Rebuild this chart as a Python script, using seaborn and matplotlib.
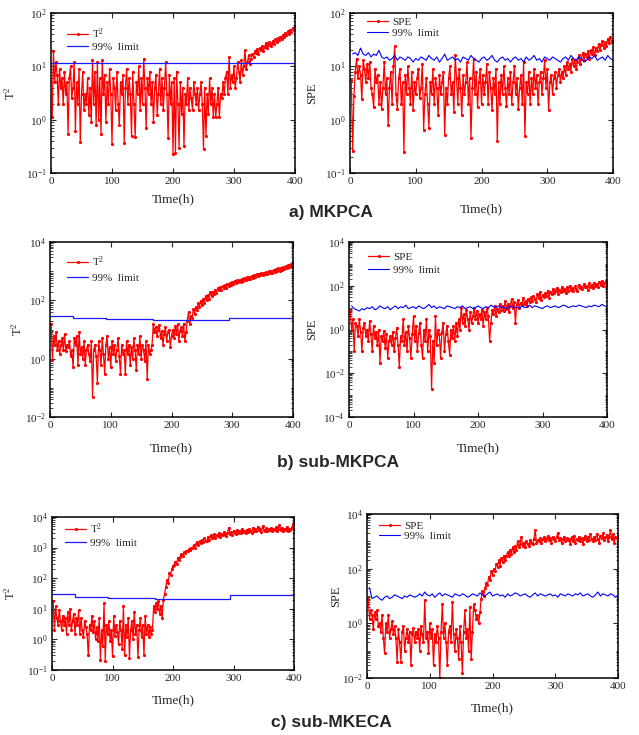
import numpy as np
import matplotlib
matplotlib.use("Agg")
import matplotlib.pyplot as plt
import seaborn as sns
from matplotlib.ticker import FixedLocator, LogLocator, NullFormatter, LogFormatterSciNotation

sns.set_style("ticks")
plt.rcParams["font.family"] = ["Liberation Serif", "DejaVu Serif"]
plt.rcParams["mathtext.fontset"] = "custom"
plt.rcParams["mathtext.rm"] = "Liberation Serif"
plt.rcParams["mathtext.it"] = "Liberation Serif:italic"
plt.rcParams["mathtext.bf"] = "Liberation Serif:bold"

# time axes (h)
hours = np.arange(2, 401, 2)
hours_lim = np.arange(4, 401, 4)

# ---- a) MKPCA ----
a_t2 = [1.1, 19, 5, 12, 7, 2, 9, 4, 6, 2, 8, 3, 5, 0.55, 6, 10, 2.5, 4, 12, 0.62,
        5, 2, 9, 0.38, 3, 8, 1.5, 3, 2, 6, 1.2, 4, 0.9, 13, 2, 8, 0.8, 12, 1, 6,
        0.55, 13, 3, 7, 0.9, 5, 2, 9, 3, 0.35, 6, 4, 1.5, 8, 2, 0.8, 5, 3, 7, 0.36,
        4, 9, 2, 6, 3, 0.5, 8, 2, 0.47, 5, 3, 10, 1.5, 6, 2, 14, 4, 0.7, 6, 3,
        8, 2, 5, 0.9, 4, 7, 1.2, 3, 9, 2, 6, 1.5, 4, 12, 3, 0.45, 7, 2, 5, 0.23,
        6, 0.24, 8, 2, 0.3, 5, 1.3, 4, 0.32, 3, 2, 6, 1.5, 4, 2.5, 1.5, 5, 3, 2, 4,
        1.5, 3, 5, 2, 0.28, 4, 0.5, 3, 1.3, 6, 2, 4, 1.1, 3, 1.1, 2, 4, 1.1, 3, 2.5,
        5, 3, 6, 8, 3, 15, 4, 7, 5, 10, 4, 6, 12, 8, 5, 13, 7, 10, 20, 9,
        12, 16, 11, 14, 17, 15, 19, 18, 21, 17, 22, 20, 24, 19, 23, 27, 22, 25, 28, 24,
        27, 30, 26, 32, 29, 34, 31, 36, 33, 39, 35, 42, 38, 45, 41, 48, 44, 52, 49, 56]
a_t2_limit = [11.5, 11.5]

a_spe = [5.5, 0.26, 2.8, 8, 14, 6, 10, 7, 2.4, 13, 9, 5, 11, 6, 12, 4, 3, 1.7, 9, 5,
         7, 2, 5, 1.6, 4, 12, 3, 6, 0.8, 4, 8, 2, 10, 24, 3, 1.6, 6, 9, 2, 5,
         0.25, 7, 3, 10, 4, 2, 8, 1.5, 5, 3, 6, 9, 2.5, 4, 11, 0.65, 3, 6, 2, 0.7,
         5, 3, 9, 2, 6, 4, 1.2, 7, 3, 5, 8, 0.52, 4, 2, 6, 10, 3, 5, 1.4, 16,
         6, 2, 9, 4, 1.2, 7, 3, 5, 12, 2, 6, 0.45, 4, 14, 3, 8, 1.7, 5, 9, 2,
         7, 3, 5, 11, 2, 8, 4, 1.5, 6, 3, 9, 0.4, 5, 2, 7, 3, 10, 4, 1.8, 6,
         3, 8, 2, 5, 10, 3, 6, 1.6, 4, 7, 2, 12, 0.5, 5, 3, 8, 2, 6, 3, 9,
         4, 7, 2, 5, 8, 3, 6, 13, 4, 9, 1.5, 5, 7, 3, 6, 8, 4, 7, 9, 5,
         8, 6, 10, 7, 12, 9, 11, 8, 14, 10, 13, 9, 12, 16, 11, 14, 18, 13, 17, 15,
         19, 14, 20, 17, 23, 16, 22, 19, 26, 20, 25, 30, 22, 28, 24, 33, 27, 35, 28, 30]
a_spe_limit = [17, 18, 16, 22, 17, 16, 18, 15, 17, 16, 20, 15, 14, 15, 13, 14, 16, 13, 15, 14,
               13, 15, 14, 12, 14, 13, 15, 14, 13, 16, 14, 13, 15, 12, 14, 17, 13, 14, 15, 13,
               14, 12, 15, 14, 13, 16, 14, 13, 12, 14, 15, 13, 14, 16, 13, 12, 14, 15, 13, 14,
               12, 14, 15, 13, 14, 12, 15, 13, 14, 16, 13, 14, 12, 15, 14, 13, 15, 14, 13, 12,
               14, 15, 13, 16, 14, 13, 15, 14, 12, 13, 15, 14, 16, 13, 14, 15, 13, 16, 14, 13]

# ---- b) sub-MKPCA ----
b_t2 = [15, 0.9, 6, 3, 8, 2, 4, 1.5, 3, 5, 2, 7, 1.8, 3, 2.5, 4, 1.2, 2, 0.5, 5,
        3, 6, 0.6, 8, 1.5, 2.5, 1, 4, 0.6, 2, 3, 1.5, 0.8, 4, 0.05, 2, 3, 1.2, 0.15, 4,
        2, 0.6, 5, 1.5, 0.3, 3, 6, 1, 2.5, 0.5, 4, 1.5, 3, 0.8, 2, 5, 1.2, 0.3, 3, 1.5,
        2, 0.3, 4, 1.5, 3, 0.6, 2.5, 1, 5, 2, 0.4, 3, 1.5, 6, 1, 3, 2, 0.8, 4, 0.2,
        3, 1.5, 2, 3, 15, 8, 12, 6, 10, 14, 5, 9, 3, 7, 12, 4, 8, 10, 2.5, 6,
        10, 5, 13, 7, 15, 4, 9, 12, 6, 16, 4, 8, 20, 40, 15, 30, 25, 50, 35, 60,
        45, 80, 60, 95, 70, 110, 80, 140, 100, 150, 115, 190, 140, 200, 170, 230, 180, 260, 220, 280,
        230, 310, 260, 330, 270, 370, 300, 390, 340, 420, 350, 460, 380, 480, 410, 500, 420, 550, 460, 570,
        500, 610, 520, 640, 560, 700, 590, 750, 640, 780, 670, 830, 720, 850, 760, 900, 780, 950, 830, 1000,
        860, 1050, 900, 1120, 950, 1150, 1000, 1250, 1050, 1300, 1100, 1400, 1200, 1500, 1250, 1600, 1350, 1700, 1400, 2000]
b_t2_limit = [29, 25, 23, 21, 24, 24]

b_spe = [7, 1, 3, 0.1, 2, 1.5, 0.5, 3, 0.8, 0.1, 1.2, 2, 0.5, 1, 0.3, 2.5, 0.6, 0.1, 1.5, 0.4,
         0.8, 0.2, 1, 0.03, 0.5, 0.3, 0.9, 0.15, 0.6, 0.05, 0.3, 0.5, 0.2, 0.8, 0.1, 0.4, 1.2, 0.2, 0.02, 0.5,
         0.3, 3, 0.2, 0.8, 0.1, 1.5, 0.4, 0.05, 0.6, 4, 0.3, 1.5, 0.1, 0.7, 2, 0.2, 0.05, 1, 0.3, 3,
         0.1, 1, 0.5, 0.002, 0.3, 0.03, 4, 0.2, 1, 0.6, 0.05, 0.8, 2, 0.1, 0.6, 1.5, 0.3, 0.07, 1, 0.4,
         1.5, 0.3, 2, 0.5, 3, 1, 10, 2, 5, 1.5, 8, 3, 1, 6, 2, 4, 10, 3, 7, 2,
         5, 3, 8, 1.5, 6, 3, 10, 4, 0.3, 2, 8, 5, 12, 4, 9, 6, 15, 8, 12, 7,
         20, 9, 15, 6, 12, 25, 10, 18, 2, 14, 22, 10, 17, 13, 28, 15, 20, 12, 24, 18,
         30, 20, 35, 25, 18, 40, 28, 50, 22, 38, 30, 45, 35, 60, 28, 50, 40, 70, 45, 55,
         80, 40, 65, 50, 90, 55, 70, 45, 85, 60, 100, 65, 75, 55, 95, 70, 60, 110, 75, 90,
         70, 120, 85, 95, 65, 130, 90, 110, 80, 140, 100, 120, 90, 150, 110, 170, 95, 130, 160, 120]
b_spe_limit = [12, 9, 8, 7, 9, 8, 10, 9, 11, 8, 9, 12, 10, 9, 11, 8, 10, 12, 9, 11,
               10, 13, 9, 10, 11, 9, 12, 10, 9, 11, 14, 10, 12, 9, 11, 10, 9, 12, 11, 10,
               9, 11, 10, 12, 9, 10, 11, 9, 10, 12, 10, 9, 11, 10, 13, 11, 10, 12, 11, 10,
               9, 11, 12, 10, 11, 9, 12, 10, 11, 13, 10, 12, 11, 10, 9, 11, 12, 10, 11, 12,
               10, 11, 13, 12, 10, 11, 12, 11, 13, 12, 11, 10, 12, 11, 13, 12, 11, 14, 12, 11]

# ---- c) sub-MKECA ----
c_t2 = [18, 2, 12, 5, 3, 9, 4, 2, 6, 3, 5, 1.5, 8, 3, 10, 2, 4, 7, 1.5, 5,
        3, 9, 1.5, 5, 2, 1.2, 4, 2.5, 1.5, 0.3, 3, 2, 6, 1.8, 4, 1, 2.5, 0.9, 5, 0.22,
        2, 0.6, 15, 0.2, 3, 1.5, 4, 0.9, 2, 0.28, 6, 1.3, 3, 1.8, 0.7, 4, 2, 0.5, 12, 0.3,
        3, 1.2, 5, 0.25, 2, 4, 1, 8, 1.5, 3, 0.27, 2, 5, 1.2, 3, 0.3, 6, 1.5, 3, 1.2,
        2.5, 1.5, 2, 12, 8, 15, 10, 18, 7, 12, 5, 20, 30, 50, 90, 70, 150, 130, 200, 250,
        280, 350, 300, 450, 380, 500, 600, 520, 700, 650, 800, 750, 900, 850, 1000, 950, 1200, 1000, 1300, 1500,
        1200, 1600, 1400, 1800, 1500, 2000, 1700, 1600, 2200, 1800, 2500, 2000, 2300, 2700, 2100, 2600, 2400, 3000, 2200, 2800,
        2500, 3200, 2700, 2400, 3000, 4500, 2800, 3300, 2600, 3500, 3000, 2800, 3800, 3100, 3400, 2900, 4000, 3200, 3600, 3000,
        3800, 3300, 4200, 3500, 3100, 4500, 3600, 4000, 3400, 4800, 3700, 4200, 3300, 5000, 3900, 3500, 4400, 3600, 4100, 3800,
        4300, 3500, 4000, 3700, 4600, 3400, 4200, 5500, 3800, 4400, 3600, 4100, 3900, 4700, 3500, 4200, 3800, 4400, 5800, 4200]
c_t2_limit = [30, 25, 23, 21, 28, 28]

c_spe = [8, 1.5, 3, 2, 0.6, 2.5, 1.5, 3, 0.8, 1, 0.5, 2, 0.3, 0.08, 1, 0.5, 2, 0.3, 0.6, 1.2,
         0.4, 0.8, 0.3, 0.04, 0.6, 0.2, 0.04, 0.5, 0.8, 0.1, 0.3, 0.6, 0.2, 0.5, 0.03, 0.4, 0.7, 0.2, 0.5, 0.3,
         0.6, 0.1, 0.8, 0.4, 0.2, 7, 0.3, 0.5, 0.08, 1, 0.3, 0.6, 0.03, 0.4, 0.2, 0.8, 0.3, 0.01, 0.5, 5,
         0.3, 1, 0.2, 0.03, 0.5, 0.8, 0.2, 6, 0.4, 0.1, 0.6, 0.3, 0.05, 0.8, 0.2, 0.015, 0.5, 3, 0.3, 0.6,
         0.1, 4, 0.05, 0.5, 5, 3, 1.5, 2, 1, 2.5, 8, 15, 10, 20, 30, 25, 50, 40, 80, 60,
         100, 80, 150, 120, 200, 130, 250, 180, 300, 200, 280, 400, 300, 500, 350, 600, 400, 700, 500, 1000,
         600, 800, 1500, 700, 900, 600, 1000, 800, 700, 1100, 900, 800, 1200, 2500, 900, 1100, 1000, 1300, 900, 1200,
         1400, 1000, 1200, 1600, 1100, 1300, 900, 1500, 1200, 1000, 1400, 2000, 1100, 1300, 900, 1200, 1500, 1000, 1300, 1100,
         1200, 800, 1400, 1000, 1600, 900, 1200, 1100, 1500, 1000, 1300, 800, 1200, 1600, 1000, 1400, 1100, 1800, 1200, 1000,
         1500, 1100, 1900, 1200, 900, 1600, 1300, 2000, 1100, 1400, 1700, 1000, 1500, 2500, 1200, 1800, 900, 1400, 1300, 1600]
c_spe_limit = [20, 8, 9, 10, 8, 7, 9, 10, 8, 9, 11, 10, 9, 8, 10, 9, 11, 10, 9, 10,
               12, 10, 14, 11, 10, 12, 9, 11, 13, 10, 12, 11, 10, 9, 12, 11, 10, 12, 11, 9,
               10, 12, 11, 10, 13, 11, 10, 12, 14, 10, 11, 12, 10, 11, 9, 12, 10, 11, 13, 12,
               10, 11, 12, 10, 9, 11, 13, 10, 12, 11, 10, 11, 12, 10, 11, 9, 12, 11, 10, 12,
               11, 10, 12, 11, 13, 10, 11, 12, 10, 9, 11, 14, 10, 12, 11, 10, 12, 11, 9, 11]

step_edges = [0, 38, 93, 170, 295, 400]
flat_edges = [0, 400]

W, H = 639, 735
fig = plt.figure(figsize=(W / 100, H / 100), dpi=100)

# pixel boxes (x0, y0, x1, y1), legend (dx, row1, spacing), ylabel right-edge gap, xlabel dy
panels = [
    dict(box=(51, 13, 295, 173), red=a_t2, name="T$^2$", lim=(flat_edges, a_t2_limit, "steps"),
         ylim=(1e-1, 1e2), major=[-1, 0, 1, 2], leg=(16, 19, 12), ylx=33, xly=26),
    dict(box=(350, 13, 613, 173), red=a_spe, name="SPE", lim=(hours_lim, a_spe_limit, None),
         ylim=(1e-1, 1e2), major=[-1, 0, 1, 2], leg=(17, 10, 12), ylx=32, xly=36),
    dict(box=(50, 242, 293, 417), red=b_t2, name="T$^2$", lim=(step_edges, b_t2_limit, "steps"),
         ylim=(1e-2, 1e4), major=[-2, 0, 2, 4], leg=(17, 18, 15), ylx=25, xly=31),
    dict(box=(349, 242, 607, 417), red=b_spe, name="SPE", lim=(hours_lim, b_spe_limit, None),
         ylim=(1e-4, 1e4), major=[-4, -2, 0, 2, 4], leg=(19, 16, 14), ylx=31, xly=31),
    dict(box=(52, 517, 294, 670), red=c_t2, name="T$^2$", lim=(step_edges, c_t2_limit, "steps"),
         ylim=(1e-1, 1e4), major=[-1, 0, 1, 2, 3, 4], leg=(13, 10, 13), ylx=34, xly=30),
    dict(box=(367, 514, 618, 678), red=c_spe, name="SPE", lim=(hours_lim, c_spe_limit, None),
         ylim=(1e-2, 1e4), major=[-2, 0, 2, 4], leg=(12, 13, 11), ylx=25, xly=30),
]

fs_px = 8 * 100 / 72

for p in panels:
    x0, y0, x1, y1 = p["box"]
    w, h = x1 - x0, y1 - y0
    ax = fig.add_axes([x0 / W, 1 - y1 / H, w / W, h / H])

    sns.lineplot(x=hours, y=p["red"], ax=ax, color="red", marker="o", markersize=2.3,
                 markeredgewidth=0, linewidth=0.9, label=p["name"], estimator=None)
    lx, ly, style = p["lim"]
    if style == "steps":
        ly = list(ly) + [ly[-1]] if len(ly) < len(lx) else ly
        sns.lineplot(x=lx, y=ly[:len(lx)], ax=ax, color="#1a1aff", linewidth=0.9,
                     drawstyle="steps-post", label="99%  limit", estimator=None)
    else:
        sns.lineplot(x=lx, y=ly, ax=ax, color="blue", linewidth=0.8,
                     label="99%  limit", estimator=None)

    ax.set_yscale("log")
    ax.set_ylim(*p["ylim"])
    ax.set_xlim(0, 400)
    ax.set_xticks([0, 100, 200, 300, 400])
    ax.yaxis.set_major_locator(FixedLocator([10.0 ** k for k in p["major"]]))
    ax.yaxis.set_major_formatter(LogFormatterSciNotation())
    ax.yaxis.set_minor_locator(LogLocator(base=10, subs=np.arange(1, 10), numticks=50))
    ax.yaxis.set_minor_formatter(NullFormatter())

    ax.tick_params(which="both", direction="in", top=True, right=True, labelsize=8, pad=3)
    ax.tick_params(which="major", length=3.5, width=0.8)
    ax.tick_params(which="minor", length=1.8, width=0.6)
    for s in ax.spines.values():
        s.set_linewidth(1.1)
        s.set_color("black")

    ax.set_ylabel(p["name"], fontsize=9)
    ax.yaxis.set_label_coords(-p["ylx"] / w, 0.5)
    ax.set_xlabel("Time(h)", fontsize=9.5)
    ax.xaxis.label.set_va("center")
    ax.xaxis.set_label_coords(0.5, -p["xly"] / h)

    dx, row1, spacing = p["leg"]
    ax.legend(loc="upper left", bbox_to_anchor=(dx / w, 1 - (row1 - fs_px / 2) / h),
              frameon=False, fontsize=8, borderpad=0, borderaxespad=0,
              handlelength=1.9, handletextpad=0.35,
              labelspacing=max(spacing / fs_px - 1, 0.0))

for txt, (cx, cy) in [("a) MKPCA", (331, 213)), ("b) sub-MKPCA", (338, 463)),
                      ("c) sub-MKECA", (331, 723))]:
    fig.text(cx / W, 1 - cy / H, txt, ha="center", va="center", fontsize=12.5,
             fontweight="bold", family=["Liberation Sans", "DejaVu Sans"])

fig.savefig("out.png", dpi=100)
